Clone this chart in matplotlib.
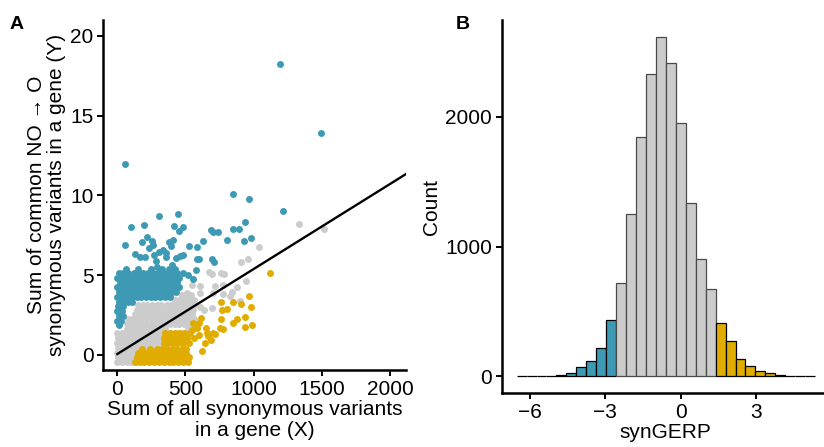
import numpy as np
import matplotlib
matplotlib.use("Agg")
import matplotlib.pyplot as plt

plt.rcParams['font.family'] = ['Liberation Sans', 'DejaVu Sans']

BLUE = '#3E9AB4'
GOLD = '#E0AC00'
GREY = '#CCCCCC'

# ---- panel A data ----
# scattered points
blue_out = [(1193, 18.24), (1491, 13.92), (59, 12.0), (846, 10.09), (963, 9.78), (1212, 9.03),
            (308, 8.74), (447, 8.86), (98, 8.05), (196, 8.15), (413, 8.07), (481, 8.05), (452, 7.77),
            (687, 7.84), (704, 7.69), (740, 7.69), (850, 7.92), (890, 7.92), (934, 8.34), (806, 7.21),
            (929, 7.17), (977, 7.31), (54, 6.90), (215, 7.38), (181, 7.06), (252, 7.17), (264, 6.90),
            (230, 6.71), (130, 6.33), (166, 6.17), (200, 6.17), (269, 6.29), (308, 6.44), (337, 6.60),
            (355, 6.37), (376, 7.06), (411, 7.23), (391, 6.83), (357, 6.12), (430, 6.10), (462, 6.23),
            (481, 6.25), (525, 6.85), (587, 6.77), (626, 7.13), (582, 6.02), (599, 6.04), (692, 6.02),
            (707, 5.81), (283, 5.91), (401, 5.64), (481, 5.12), (520, 4.99), (557, 4.74), (579, 5.33),
            (379, 5.37), (288, 5.54), (411, 5.04)]
grey_out = [(1334, 8.21), (1518, 7.90), (1041, 6.79), (955, 6.02), (907, 5.83), (941, 4.64),
            (674, 5.20), (694, 5.08), (762, 5.16), (782, 5.08), (606, 4.33), (545, 4.39), (718, 4.35),
            (772, 4.39), (843, 3.97), (875, 4.28), (704, 3.87), (777, 3.80), (606, 3.87), (899, 3.39),
            (692, 2.93), (635, 2.82), (606, 3.03), (508, 3.87), (826, 3.70)]
gold_out = [(1117, 5.14), (968, 3.70), (762, 3.32), (850, 3.34), (904, 3.20), (982, 2.99), (802, 2.86),
            (767, 2.82), (938, 2.36), (880, 2.24), (850, 2.03), (987, 1.86), (938, 1.73), (760, 2.26),
            (752, 1.67), (772, 1.61), (718, 1.30), (684, 0.94), (640, 0.73), (621, 0.27), (667, 1.19),
            (650, 1.67), (613, 2.30), (601, 1.99), (557, 1.99), (545, 1.57), (582, 1.67), (601, 1.25),
            (565, 1.04), (525, 0.73), (520, -0.21), (655, 1.36), (704, 1.36)]

# dense clouds, given row by row: y value -> x positions
grey_rows = {
    -0.45: [0, 33, 68, 102, 138], -0.15: [3, 37, 71, 106, 140], 0.15: [0, 34, 70, 104, 141, 176],
    0.45: [4, 36, 72, 103, 139, 178, 212, 250, 290],
    0.75: [0, 35, 68, 106, 141, 173, 212, 246, 281, 318],
    1.05: [2, 37, 70, 104, 140, 177, 209, 247, 283, 315, 345],
    1.35: [0, 34, 71, 108, 142, 174, 211, 244, 279, 316, 352, 390, 425, 460, 495],
    1.65: [72, 104, 139, 176, 213, 245, 282, 318, 349, 520, 550],
    1.95: [73, 106, 141, 174, 210, 247, 279, 314, 351, 387, 421, 454, 492, 528],
    2.25: [76, 111, 146, 180, 214, 251, 286, 320, 356, 389, 426, 460, 496, 531, 560],
    2.55: [131, 166, 200, 236, 271, 304, 341, 376, 409, 446, 480, 514, 549],
    2.85: [141, 174, 211, 244, 281, 316, 349, 386, 421, 454, 491, 524, 556],
    3.15: [152, 185, 219, 256, 290, 324, 361, 394, 431, 466, 500, 534, 565],
    3.45: [420, 456, 489, 526, 560], 3.75: [472, 505, 538],
}
blue_rows = {
    1.85: [10], 2.15: [0, 30], 2.45: [10, 45], 2.75: [0, 35], 3.05: [5, 40],
    3.35: [10, 45, 80, 110],
    3.65: [0, 35, 70, 104, 141, 175, 209, 246, 280, 316, 349, 386],
    3.95: [14, 51, 85, 121, 154, 191, 224, 261, 294, 331, 364, 401, 434],
    4.25: [0, 36, 69, 106, 139, 176, 210, 244, 281, 314, 351, 384, 421, 450],
    4.55: [16, 49, 86, 119, 156, 189, 226, 259, 296, 329, 366, 399, 436],
    4.85: [0, 35, 71, 104, 141, 174, 211, 244, 281, 315, 349, 386, 419, 455],
    5.15: [11, 44, 81, 119, 151, 189, 226, 259, 301, 334, 371, 409, 441],
    5.40: [60, 150, 250, 330, 420],
}
gold_rows = {
    -0.45: [131, 166, 199, 236, 269, 306, 339, 376, 409, 446, 479, 516],
    -0.15: [141, 174, 211, 244, 281, 314, 351, 384, 421, 454, 491, 526],
    0.15: [151, 184, 221, 254, 291, 324, 361, 394, 431, 464, 501],
    0.40: [180, 240, 290, 331, 364, 401, 434, 471, 505],
    0.75: [341, 374, 411, 444, 481],
    1.05: [339, 376, 409, 446, 479, 511],
    1.35: [351, 384, 421, 454, 491, 530],
}

# regression line y = a + b*x
fit_intercept = 0.06
fit_slope = 0.00533

# ---- panel B data ----
bin_start = -6.52
bin_width = 0.395
counts = [2, 1, 3, 5, 13, 26, 69, 118, 215, 431,
          723, 1254, 1844, 2328, 2613, 2413, 1949, 1336, 905, 675,
          413, 269, 133, 82, 38, 23, 10, 3, 2, 2]
bin_group = ['low'] * 10 + ['mid'] * 10 + ['high'] * 10


def rows_to_xy(rows):
    pts = [(x, y) for y, xs in rows.items() for x in xs]
    return np.array(pts, dtype=float)


def style_axes(ax):
    for side in ['top', 'right']:
        ax.spines[side].set_visible(False)
    for side in ['left', 'bottom']:
        ax.spines[side].set_linewidth(1.8)
    ax.tick_params(width=1.4, length=4, labelsize=15, colors='black', pad=3)


fig = plt.figure(figsize=(8.24, 4.47), dpi=100)

# Panel A
axA = fig.add_axes([0.1254, 0.1723, 0.3673, 0.783])
for pts, col in [(rows_to_xy(grey_rows), GREY), (np.array(grey_out), GREY),
                 (rows_to_xy(blue_rows), BLUE), (np.array(blue_out), BLUE),
                 (rows_to_xy(gold_rows), GOLD), (np.array(gold_out), GOLD)]:
    axA.scatter(pts[:, 0], pts[:, 1], s=25, c=col, linewidths=0, zorder=2)
xlA = (-102.6, 2117)
xs = np.array([0, xlA[1]])
axA.plot(xs, fit_intercept + fit_slope * xs, color='black', lw=1.7, zorder=3)
axA.set_xlim(xlA)
axA.set_ylim(-0.94, 21.0)
axA.set_xticks([0, 500, 1000, 1500, 2000])
axA.set_yticks([0, 5, 10, 15, 20])
style_axes(axA)
axA.set_xlabel('Sum of all synonymous variants\nin a gene (X)', fontsize=15, linespacing=1.1, labelpad=1)
axA.set_ylabel('Sum of common NO \u2192 O\nsynonymous variants in a gene (Y)', fontsize=15,
               linespacing=1.1, labelpad=3)
fig.text(0.012, 0.935, 'A', fontsize=14, fontweight='bold')

# Panel B
axB = fig.add_axes([0.6089, 0.1201, 0.3981, 0.8352])
colors = {'low': BLUE, 'mid': GREY, 'high': GOLD}
edges = {'low': 'black', 'mid': '#4a4a4a', 'high': 'black'}
lefts = bin_start + bin_width * np.arange(len(counts))
for left, c, g in zip(lefts, counts, bin_group):
    axB.bar(left, c, width=bin_width, align='edge', color=colors[g], edgecolor=edges[g], linewidth=0.9)
axB.set_xlim(-7.11, 5.91)
axB.set_ylim(-130, 2744)
axB.set_xticks([-6, -3, 0, 3])
axB.set_xticklabels(['\u22126', '\u22123', '0', '3'])
axB.set_yticks([0, 1000, 2000])
style_axes(axB)
axB.set_xlabel('synGERP', fontsize=15, labelpad=1)
axB.set_ylabel('Count', fontsize=15, labelpad=3)
fig.text(0.553, 0.935, 'B', fontsize=14, fontweight='bold')

fig.savefig('out.png', dpi=100)
